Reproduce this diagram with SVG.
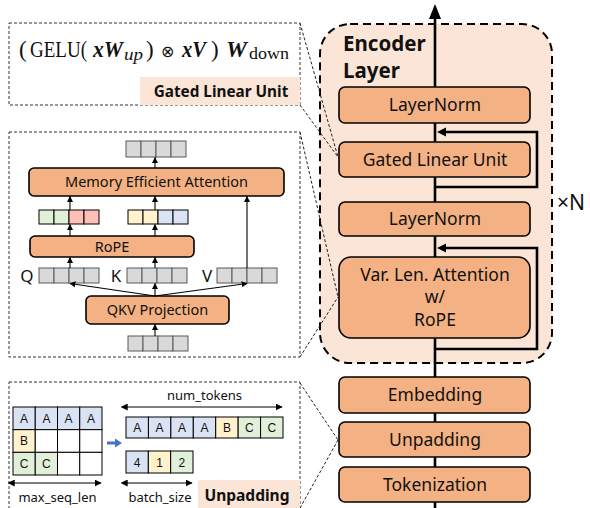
<svg xmlns="http://www.w3.org/2000/svg" width="590" height="508" viewBox="0 0 590 508">
  <defs>
    <style>
      .box { fill: #F4B183; stroke: #000; stroke-width: 1.6; }
      .lbl { font-family: "Noto Sans", "Open Sans", sans-serif; fill: #111; text-anchor: middle; }
      .main { font-size: 17.5px; }
      .small { font-size: 14.5px; }
      .bold { font-weight: bold; }
      .panel { fill: #fff; stroke: #333; stroke-width: 1; stroke-dasharray: 3 2; }
      .zoomline { fill: none; stroke: #222; stroke-width: 1; stroke-dasharray: 3 2; }
      .tag { fill: #FBE5D6; }
      .flow { fill: none; stroke: #000; stroke-width: 2.6; }
      .thin { fill: none; stroke: #000; stroke-width: 1.1; }
      .gray { fill: #D9D9D9; stroke: #595959; stroke-width: 1; }
      .cell { stroke: #000; stroke-width: 1; }
      .blue { fill: #DAE3F3; }
      .yellow { fill: #FFF2CC; }
      .green { fill: #E2F0D9; }
      .red { fill: #FFBFB6; }
      .white { fill: #fff; }
      .ch { font-family: "Liberation Sans", Arial, sans-serif; font-size: 12px; fill: #111; text-anchor: middle; }
      .math { font-family: "Liberation Serif", "Times New Roman", serif; fill: #111; }
    </style>
    <marker id="ah" viewBox="0 0 10 10" refX="9" refY="5" markerWidth="6" markerHeight="6" markerUnits="userSpaceOnUse" orient="auto">
      <path d="M0,0 L10,5 L0,10 z" fill="#000"/>
    </marker>
    <marker id="ahs" viewBox="0 0 10 10" refX="1" refY="5" markerWidth="7" markerHeight="7" markerUnits="userSpaceOnUse" orient="auto-start-reverse">
      <path d="M0,0 L10,5 L0,10 z" fill="#000"/>
    </marker>
    <marker id="ahe" viewBox="0 0 10 10" refX="9" refY="5" markerWidth="7" markerHeight="7" markerUnits="userSpaceOnUse" orient="auto">
      <path d="M0,0 L10,5 L0,10 z" fill="#000"/>
    </marker>
  </defs>

  <!-- encoder layer background -->
  <g id="encoder-layer">
    <rect x="320" y="24" width="232" height="339" rx="30" fill="#FBE5D6" stroke="#000" stroke-width="2" stroke-dasharray="8 5"/>
    <text x="343" y="51" font-family="'Noto Sans', 'Open Sans', sans-serif" font-size="20.5" font-weight="bold" fill="#111">Encoder</text>
    <text x="343" y="78" font-family="'Noto Sans', 'Open Sans', sans-serif" font-size="20.5" font-weight="bold" fill="#111">Layer</text>
  </g>
  <text x="557" y="210" font-family="'Noto Sans', 'Open Sans', sans-serif" font-size="21" fill="#111">×N</text>

  <!-- main data flow and residual paths -->
  <g id="connectors">
    <line class="flow" x1="435" y1="508" x2="435" y2="16"/>
    <path d="M429,19 L435,4 L441,19 z" fill="#000"/>
    <polyline class="flow" points="435,187 537,187 537,132 444,132" stroke-width="2.4"/>
    <path d="M437,132 L446,127.5 L446,136.5 z" fill="#000"/>
    <polyline class="flow" points="435,349 537,349 537,248 444,248" stroke-width="2.4"/>
    <path d="M437,248 L446,243.5 L446,252.5 z" fill="#000"/>

    <!-- detail callouts -->
    <line class="zoomline" x1="300" y1="23" x2="338" y2="157"/>
    <line class="zoomline" x1="300" y1="105" x2="338" y2="157"/>
    <line class="zoomline" x1="300" y1="132" x2="338" y2="297"/>
    <line class="zoomline" x1="300" y1="357" x2="338" y2="297"/>
    <line class="zoomline" x1="300" y1="383" x2="338" y2="440"/>
    <line class="zoomline" x1="300" y1="508" x2="338" y2="440"/>
  </g>

  <g id="layernorm-top">
    <rect class="box" x="339" y="87" width="191" height="36" rx="6"/>
    <text class="lbl main" x="435" y="111">LayerNorm</text>
  </g>
  <g id="gated-linear-unit">
    <rect class="box" x="339" y="142" width="191" height="35" rx="6"/>
    <text class="lbl main" x="435" y="165.5">Gated Linear Unit</text>
  </g>
  <g id="layernorm-bottom">
    <rect class="box" x="339" y="202" width="191" height="34" rx="6"/>
    <text class="lbl main" x="435" y="225">LayerNorm</text>
  </g>
  <g id="var-len-attention">
    <rect class="box" x="339" y="257" width="191" height="81" rx="12"/>
    <text class="lbl main" x="435" y="281">Var. Len. Attention</text>
    <text class="lbl main" x="435" y="303">w/</text>
    <text class="lbl main" x="435" y="326">RoPE</text>
  </g>
  <g id="embedding">
    <rect class="box" x="339" y="377" width="191" height="36" rx="6"/>
    <text class="lbl main" x="435" y="401">Embedding</text>
  </g>
  <g id="unpadding">
    <rect class="box" x="339" y="422" width="191" height="35" rx="6"/>
    <text class="lbl main" x="435" y="446">Unpadding</text>
  </g>
  <g id="tokenization">
    <rect class="box" x="339" y="467" width="191" height="35" rx="6"/>
    <text class="lbl main" x="435" y="491">Tokenization</text>
  </g>

  <!-- GLU formula panel -->
  <g id="panel-glu">
    <rect class="panel" x="9" y="23" width="291" height="82"/>
    <rect class="tag" x="140" y="77" width="160" height="28"/>
    <text class="lbl bold" x="221" y="97" font-size="15.3">Gated Linear Unit</text>
    <text class="math" font-size="23" y="57">
      <tspan x="19">(</tspan>
      <tspan x="30" textLength="57" lengthAdjust="spacingAndGlyphs">GELU(</tspan>
      <tspan x="93" font-weight="bold" font-style="italic" textLength="30" lengthAdjust="spacingAndGlyphs">xW</tspan>
      <tspan x="124" dy="3" font-size="16" font-style="italic" textLength="19" lengthAdjust="spacingAndGlyphs">up</tspan>
      <tspan x="146" dy="-3">)</tspan>
      <tspan x="161" font-size="16">⊗</tspan>
      <tspan x="182" font-weight="bold" font-style="italic" textLength="24" lengthAdjust="spacingAndGlyphs">xV</tspan>
      <tspan x="211">)</tspan>
      <tspan x="226" font-weight="bold" font-style="italic" textLength="21" lengthAdjust="spacingAndGlyphs">W</tspan>
      <tspan x="249" dy="1.5" font-size="16.5" textLength="40" lengthAdjust="spacingAndGlyphs">down</tspan>
    </text>
  </g>

  <!-- attention detail panel -->
  <g id="panel-attention">
    <rect class="panel" x="9" y="132" width="291" height="225"/>

    <g id="attn-output">
      <rect class="gray" x="126" y="141" width="15" height="16"/>
      <rect class="gray" x="141" y="141" width="15" height="16"/>
      <rect class="gray" x="156" y="141" width="15" height="16"/>
      <rect class="gray" x="171" y="141" width="15" height="16"/>
    </g>
    <g id="memory-efficient-attention">
      <rect class="box" x="29" y="168" width="255" height="28" rx="5"/>
      <text class="lbl small" x="156.5" y="187">Memory Efficient Attention</text>
    </g>
    <g id="q-rotated">
      <rect class="cell green" x="39" y="210" width="15" height="14" stroke="#7F7F7F"/>
      <rect class="cell green" x="54" y="210" width="15" height="14" stroke="#7F7F7F"/>
      <rect class="cell red" x="69" y="210" width="15" height="14" stroke="#7F7F7F"/>
      <rect class="cell red" x="84" y="210" width="15" height="14" stroke="#7F7F7F"/>
    </g>
    <g id="k-rotated">
      <rect class="cell yellow" x="128" y="210" width="15" height="14" stroke="#7F7F7F"/>
      <rect class="cell yellow" x="143" y="210" width="15" height="14" stroke="#7F7F7F"/>
      <rect class="cell blue" x="158" y="210" width="15" height="14" stroke="#7F7F7F"/>
      <rect class="cell blue" x="173" y="210" width="15" height="14" stroke="#7F7F7F"/>
    </g>
    <g id="rope">
      <rect class="box" x="30" y="236" width="164" height="21" rx="5"/>
      <text class="lbl small" x="112" y="251.5">RoPE</text>
    </g>
    <g id="q">
      <text class="lbl" font-size="17" x="27" y="282">Q</text>
      <rect class="gray" x="39" y="268" width="15" height="15"/>
      <rect class="gray" x="54" y="268" width="15" height="15"/>
      <rect class="gray" x="69" y="268" width="15" height="15"/>
      <rect class="gray" x="84" y="268" width="15" height="15"/>
    </g>
    <g id="k">
      <text class="lbl" font-size="17" x="116" y="282">K</text>
      <rect class="gray" x="127" y="268" width="15" height="15"/>
      <rect class="gray" x="142" y="268" width="15" height="15"/>
      <rect class="gray" x="157" y="268" width="15" height="15"/>
      <rect class="gray" x="172" y="268" width="15" height="15"/>
    </g>
    <g id="v">
      <text class="lbl" font-size="17" x="207" y="282">V</text>
      <rect class="gray" x="217" y="268" width="15" height="15"/>
      <rect class="gray" x="232" y="268" width="15" height="15"/>
      <rect class="gray" x="247" y="268" width="15" height="15"/>
      <rect class="gray" x="262" y="268" width="15" height="15"/>
    </g>
    <g id="qkv-projection">
      <rect class="box" x="86" y="296" width="143" height="28" rx="5"/>
      <text class="lbl small" x="157.5" y="315">QKV Projection</text>
    </g>
    <g id="attn-input">
      <rect class="gray" x="128" y="336" width="15" height="15"/>
      <rect class="gray" x="143" y="336" width="15" height="15"/>
      <rect class="gray" x="158" y="336" width="15" height="15"/>
      <rect class="gray" x="173" y="336" width="15" height="15"/>
    </g>

    <g id="attn-arrows">
      <line class="thin" x1="155" y1="336" x2="155" y2="324.5" marker-end="url(#ah)"/>
      <line class="thin" x1="155" y1="296" x2="70" y2="283.5" marker-end="url(#ah)"/>
      <line class="thin" x1="155" y1="296" x2="155" y2="283.5" marker-end="url(#ah)"/>
      <line class="thin" x1="155" y1="296" x2="247" y2="283.5" marker-end="url(#ah)"/>
      <line class="thin" x1="70" y1="268" x2="70" y2="257.5" marker-end="url(#ah)"/>
      <line class="thin" x1="155" y1="268" x2="155" y2="257.5" marker-end="url(#ah)"/>
      <line class="thin" x1="70" y1="236" x2="70" y2="224.5" marker-end="url(#ah)"/>
      <line class="thin" x1="155" y1="236" x2="155" y2="224.5" marker-end="url(#ah)"/>
      <line class="thin" x1="70" y1="210" x2="70" y2="196.5" marker-end="url(#ah)"/>
      <line class="thin" x1="155" y1="210" x2="155" y2="196.5" marker-end="url(#ah)"/>
      <line class="thin" x1="247" y1="268" x2="247" y2="196.5" marker-end="url(#ah)"/>
      <line class="thin" x1="155" y1="168" x2="155" y2="157.5" marker-end="url(#ah)"/>
    </g>
  </g>

  <!-- unpadding detail panel -->
  <g id="panel-unpadding">
    <rect class="panel" x="9" y="382" width="291" height="130"/>
    <rect class="tag" x="198" y="480" width="102" height="28"/>
    <text class="lbl bold" x="247" y="501" font-size="15.5">Unpadding</text>

    <g id="padded-batch">
      <rect class="cell blue" x="13" y="407" width="22.25" height="22.67"/>
      <rect class="cell blue" x="35.25" y="407" width="22.25" height="22.67"/>
      <rect class="cell blue" x="57.5" y="407" width="22.25" height="22.67"/>
      <rect class="cell blue" x="79.75" y="407" width="22.25" height="22.67"/>
      <rect class="cell yellow" x="13" y="429.67" width="22.25" height="22.67"/>
      <rect class="cell white" x="35.25" y="429.67" width="22.25" height="22.67"/>
      <rect class="cell white" x="57.5" y="429.67" width="22.25" height="22.67"/>
      <rect class="cell white" x="79.75" y="429.67" width="22.25" height="22.67"/>
      <rect class="cell green" x="13" y="452.33" width="22.25" height="22.67"/>
      <rect class="cell green" x="35.25" y="452.33" width="22.25" height="22.67"/>
      <rect class="cell white" x="57.5" y="452.33" width="22.25" height="22.67"/>
      <rect class="cell white" x="79.75" y="452.33" width="22.25" height="22.67"/>
      <text class="ch" x="24" y="422.5">A</text>
      <text class="ch" x="46.4" y="422.5">A</text>
      <text class="ch" x="68.6" y="422.5">A</text>
      <text class="ch" x="90.9" y="422.5">A</text>
      <text class="ch" x="24" y="445.2">B</text>
      <text class="ch" x="24" y="467.8">C</text>
      <text class="ch" x="46.4" y="467.8">C</text>
    </g>
    <line class="thin" x1="14" y1="483" x2="101" y2="483" marker-start="url(#ahs)" marker-end="url(#ahe)"/>
    <text class="lbl" font-size="13" x="57.5" y="502">max_seq_len</text>

    <path d="M107,441.5 L115,441.5 L115,438.5 L122,443 L115,447.5 L115,444.5 L107,444.5 z" fill="#4472C4"/>

    <text class="lbl" font-size="13" x="204.5" y="400">num_tokens</text>
    <line class="thin" x1="127" y1="407" x2="282" y2="407" marker-start="url(#ahs)" marker-end="url(#ahe)"/>
    <g id="packed-tokens">
      <rect class="cell blue" x="126" y="417" width="22.43" height="21"/>
      <rect class="cell blue" x="148.43" y="417" width="22.43" height="21"/>
      <rect class="cell blue" x="170.86" y="417" width="22.43" height="21"/>
      <rect class="cell blue" x="193.29" y="417" width="22.43" height="21"/>
      <rect class="cell yellow" x="215.71" y="417" width="22.43" height="21"/>
      <rect class="cell green" x="238.14" y="417" width="22.43" height="21"/>
      <rect class="cell green" x="260.57" y="417" width="22.43" height="21"/>
      <text class="ch" x="137.2" y="432">A</text>
      <text class="ch" x="159.6" y="432">A</text>
      <text class="ch" x="182.1" y="432">A</text>
      <text class="ch" x="204.5" y="432">A</text>
      <text class="ch" x="226.9" y="432">B</text>
      <text class="ch" x="249.4" y="432">C</text>
      <text class="ch" x="271.8" y="432">C</text>
    </g>
    <g id="seq-lengths">
      <rect class="cell blue" x="126" y="451" width="22.33" height="22"/>
      <rect class="cell yellow" x="148.33" y="451" width="22.33" height="22"/>
      <rect class="cell green" x="170.67" y="451" width="22.33" height="22"/>
      <text class="ch" x="137.2" y="466.5">4</text>
      <text class="ch" x="159.5" y="466.5">1</text>
      <text class="ch" x="181.8" y="466.5">2</text>
    </g>
    <line class="thin" x1="127" y1="483" x2="192" y2="483" marker-start="url(#ahs)" marker-end="url(#ahe)"/>
    <text class="lbl" font-size="13" x="160" y="502">batch_size</text>
  </g>
</svg>
